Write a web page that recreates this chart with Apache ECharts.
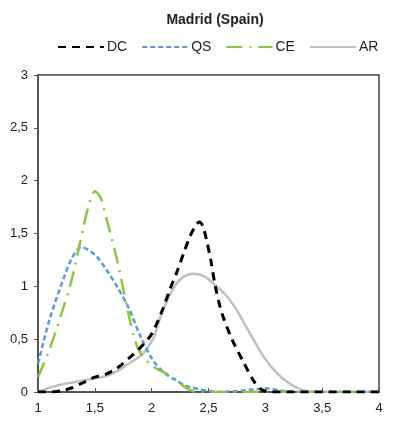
<!DOCTYPE html>
<html>
<head>
<meta charset="utf-8">
<script src="https://cdn.jsdelivr.net/npm/echarts@6/dist/echarts.min.js"></script>
<style>
  html, body { margin: 0; padding: 0; background: #fff; }
  #main { width: 396px; height: 424px; }
</style>
</head>
<body>
<div id="main"></div>
<script>
// curve points, [x, density]
var dc = [[1.0,0],[1.1,0],[1.2,0.01],[1.3,0.04],[1.4,0.09],[1.5,0.14],[1.6,0.17],[1.7,0.23],[1.8,0.32],[1.9,0.42],[2.0,0.55],[2.1,0.79],[2.16,0.97],[2.22,1.13],[2.28,1.31],[2.34,1.48],[2.39,1.58],[2.42,1.61],[2.45,1.57],[2.48,1.45],[2.52,1.25],[2.56,1.0],[2.62,0.74],[2.71,0.49],[2.8,0.3],[2.9,0.1],[2.97,0.02],[3.05,0],[4.0,0]];
var qs = [[1.0,0.27],[1.1,0.68],[1.2,1.0],[1.3,1.27],[1.38,1.37],[1.5,1.3],[1.6,1.16],[1.7,0.99],[1.8,0.79],[1.9,0.53],[2.0,0.32],[2.1,0.19],[2.2,0.12],[2.3,0.06],[2.4,0.03],[2.5,0.01],[2.6,0],[2.7,0.005],[2.8,0.015],[2.9,0.025],[3.0,0.035],[3.1,0.02],[3.2,0.005],[3.3,0],[4.0,0]];
var ce = [[1.0,0.14],[1.1,0.4],[1.2,0.72],[1.3,1.08],[1.4,1.56],[1.45,1.78],[1.5,1.9],[1.55,1.84],[1.6,1.65],[1.7,1.23],[1.8,0.72],[1.85,0.5],[1.9,0.37],[2.0,0.25],[2.1,0.19],[2.2,0.13],[2.3,0.04],[2.4,0],[3.3,0],[4.0,0]];
var ar = [[1.0,0],[1.1,0.04],[1.2,0.07],[1.3,0.09],[1.4,0.11],[1.5,0.13],[1.6,0.15],[1.7,0.2],[1.8,0.27],[1.9,0.34],[1.96,0.41],[2.02,0.52],[2.08,0.72],[2.19,0.98],[2.28,1.09],[2.37,1.12],[2.47,1.09],[2.56,1.01],[2.65,0.92],[2.74,0.79],[2.83,0.62],[2.92,0.45],[3.0,0.31],[3.1,0.18],[3.2,0.09],[3.3,0.03],[3.4,0],[4.0,0]];

var comma = function (v) { return String(v).replace('.', ','); };
var font = "'Liberation Sans Narrow', 'Arial Narrow', 'Liberation Sans', Arial, sans-serif";

var myChart = echarts.init(document.getElementById('main'));
myChart.setOption({
  animation: false,
  textStyle: { fontFamily: font },
  title: {
    text: 'Madrid (Spain)', left: 210, top: 8, textAlign: 'center',
    textStyle: { fontSize: 14, fontWeight: 'bold', color: '#222', fontFamily: font }
  },
  legend: {
    top: 35, left: 52, itemWidth: 46, itemHeight: 10, itemGap: 14,
    itemStyle: { opacity: 0 },
    textStyle: { fontSize: 14, color: '#222', fontFamily: font, padding: [0, 0, 0, -2] },
    data: ['DC', 'QS', 'CE', 'AR']
  },
  grid: { left: 38, right: 17, top: 75, bottom: 32, show: true, borderColor: '#444', borderWidth: 1.5 },
  xAxis: {
    type: 'value', min: 1, max: 4, interval: 0.5,
    axisLine: { lineStyle: { color: '#555', width: 2 } },
    axisTick: { inside: true, length: 4, lineStyle: { color: '#555' } },
    splitLine: { show: false },
    axisLabel: { formatter: comma, color: '#222', fontSize: 13, margin: 10 }
  },
  yAxis: {
    type: 'value', min: 0, max: 3, interval: 0.5,
    axisLine: { show: true, lineStyle: { color: '#555', width: 2 } },
    axisTick: { show: true, length: 4, lineStyle: { color: '#555' } },
    splitLine: { show: false },
    axisLabel: { formatter: comma, color: '#222', fontSize: 13, margin: 10 }
  },
  series: [
    { name: 'DC', type: 'line', data: dc, smooth: 0.3, symbol: 'none', z: 4,
      itemStyle: { color: '#000' },
      lineStyle: { color: '#000', width: 3, type: [8, 6] } },
    { name: 'QS', type: 'line', data: qs, smooth: 0.3, symbol: 'none', z: 3,
      itemStyle: { color: '#5B9BD5' },
      lineStyle: { color: '#5B9BD5', width: 2.5, type: [5, 3] } },
    { name: 'CE', type: 'line', data: ce, smooth: 0.3, symbol: 'none', z: 3,
      itemStyle: { color: '#8CC63F' },
      lineStyle: { color: '#8CC63F', width: 2.5, type: [16, 7, 2, 7] } },
    { name: 'AR', type: 'line', data: ar, smooth: 0.3, symbol: 'none', z: 2,
      itemStyle: { color: '#BFBFBF' },
      lineStyle: { color: '#BFBFBF', width: 2.5 } }
  ]
});
</script>
</body>
</html>
